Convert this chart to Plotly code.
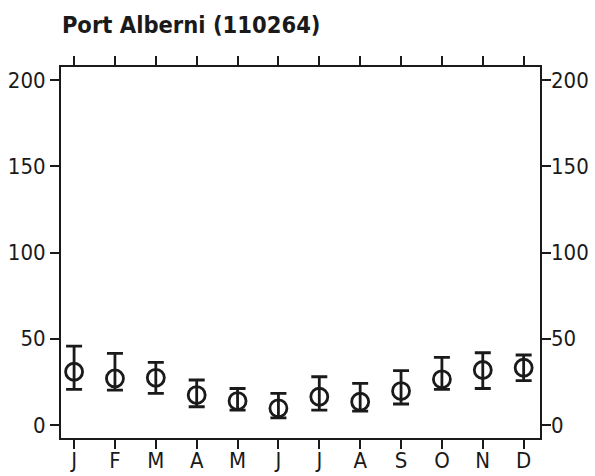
import plotly.graph_objects as go

months = ["J", "F", "M", "A", "M", "J", "J", "A", "S", "O", "N", "D"]
month_pos = list(range(1, 13))
mean = [30.9, 27.0, 27.4, 17.4, 13.9, 9.7, 16.4, 13.5, 19.7, 26.5, 31.9, 33.2]
upper = [45.8, 41.5, 36.3, 26.1, 21.2, 18.4, 28.0, 24.1, 31.5, 39.2, 41.9, 40.6]
lower = [20.7, 20.3, 18.4, 10.6, 8.7, 4.2, 8.7, 8.1, 12.2, 20.7, 21.2, 25.7]
y_ticks = [0, 50, 100, 150, 200]

err_plus = [u - m for u, m in zip(upper, mean)]
err_minus = [m - l for m, l in zip(mean, lower)]

font_narrow = "DejaVu Sans Condensed, Liberation Sans Narrow, sans-serif"

fig = go.Figure()
fig.add_trace(go.Scatter(
    x=month_pos, y=mean, mode="markers",
    marker=dict(symbol="circle-open", size=17, color="#1a1a1a",
                line=dict(width=2.8, color="#1a1a1a")),
    error_y=dict(type="data", symmetric=False, array=err_plus,
                 arrayminus=err_minus, color="#1a1a1a", thickness=2.8, width=8),
    showlegend=False, hoverinfo="skip"))
# invisible trace so the right-hand axis gets drawn
fig.add_trace(go.Scatter(x=[month_pos[0]], y=[y_ticks[0]], yaxis="y2",
                         mode="markers", marker=dict(opacity=0),
                         showlegend=False, hoverinfo="skip"))

yrange = [-7.5, 207.5]
fig.update_layout(
    width=595, height=476,
    margin=dict(l=61, r=55, t=67, b=38),
    plot_bgcolor="white", paper_bgcolor="white",
    title=dict(text="<b>Port Alberni (110264)</b>", x=0.104, xanchor="left",
               y=0.947, yanchor="middle",
               font=dict(family=font_narrow, size=23.5, color="#1a1a1a")),
    xaxis=dict(range=[0.68, 12.4], tickvals=month_pos, ticktext=months,
               showgrid=False, zeroline=False, showline=True, mirror="ticks",
               linecolor="#1a1a1a", linewidth=2, ticks="outside", ticklen=9,
               tickwidth=2, tickcolor="#1a1a1a", automargin=False,
               ticklabelstandoff=-7,
               tickfont=dict(family=font_narrow, size=22, color="#1a1a1a")),
    yaxis=dict(range=yrange, tickvals=y_ticks, showgrid=False, zeroline=False,
               showline=True, mirror="ticks", linecolor="#1a1a1a", linewidth=2,
               ticks="outside", ticklen=9, tickwidth=1.5, tickcolor="#1a1a1a",
               automargin=False,
               tickfont=dict(family=font_narrow, size=22, color="#1a1a1a")),
    yaxis2=dict(range=yrange, tickvals=y_ticks, overlaying="y", side="right",
                showgrid=False, zeroline=False, showline=False,
                ticks="", ticklabelstandoff=10, automargin=False,
                tickfont=dict(family=font_narrow, size=22, color="#1a1a1a")),
)

# drop the browser's default body margin so the page does not scroll
fig.write_html("out.html", config={"displayModeBar": False},
               post_script="document.body.style.margin='0';")
